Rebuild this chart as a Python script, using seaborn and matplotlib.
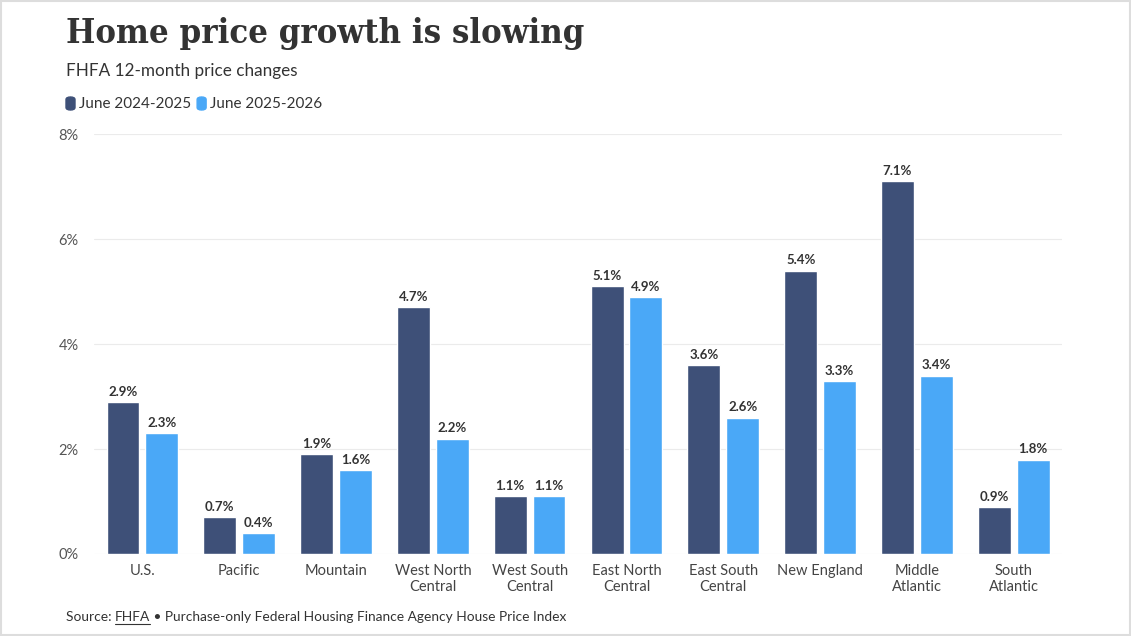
import matplotlib.pyplot as plt
import pandas as pd
import seaborn as sns
from matplotlib.patches import Rectangle, FancyBboxPatch

regions = ['U.S.', 'Pacific', 'Mountain', 'West North\nCentral', 'West South\nCentral',
           'East North\nCentral', 'East South\nCentral', 'New England', 'Middle\nAtlantic',
           'South\nAtlantic']
prev_year = [2.9, 0.7, 1.9, 4.7, 1.1, 5.1, 3.6, 5.4, 7.1, 0.9]
this_year = [2.3, 0.4, 1.6, 2.2, 1.1, 4.9, 2.6, 3.3, 3.4, 1.8]
series = ['June 2024-2025', 'June 2025-2026']
colors = ['#3e5078', '#4aa8f7']

df = pd.DataFrame({
    'region': regions * 2,
    'value': prev_year + this_year,
    'period': [series[0]] * len(regions) + [series[1]] * len(regions),
})

sns.set_style('white')
plt.rcParams['font.family'] = ['Lato', 'DejaVu Sans']

fig = plt.figure(figsize=(11.31, 6.36), dpi=100)
ax = fig.add_axes([0.0831, 0.129, 0.856, 0.660])

sns.barplot(data=df, x='region', y='value', hue='period', palette=colors,
            width=0.8, gap=0.15, ax=ax, legend=False, saturation=1)

for cont in ax.containers:
    ax.bar_label(cont, labels=[f'{v:.1f}%' for v in cont.datavalues], padding=3,
                 fontsize=9.5, fontweight='bold', color='#333333')

ax.set_xlim(-0.5, len(regions) - 0.5)
ax.set_ylim(0, 8)
ax.set_yticks([0, 2, 4, 6, 8])
ax.set_yticklabels([f'{t}%' for t in [0, 2, 4, 6, 8]])
ax.set_xlabel('')
ax.set_ylabel('')
ax.grid(axis='y', color='#ebebeb', linewidth=0.8)
ax.set_axisbelow(True)
for s in ax.spines.values():
    s.set_visible(False)
ax.tick_params(axis='y', length=0, labelsize=10.5, labelcolor='#555555', pad=8)
ax.tick_params(axis='x', length=3, color='#e0e0e0', labelsize=10.5, labelcolor='#444444', pad=4)
for lbl in ax.get_yticklabels():
    lbl.set_horizontalalignment('left')
    lbl.set_x(-0.025)

# header
fig.text(66 / 1131, 1 - 33 / 636, 'Home price growth is slowing', fontsize=24.8,
         fontweight='bold', family='DejaVu Serif', fontstretch='condensed',
         color='#333333', va='center')
fig.text(66 / 1131, 1 - 71 / 636, 'FHFA 12-month price changes', fontsize=12.3,
         color='#333333', va='center')

x = 66
for name, c in zip(series, colors):
    fig.patches.append(FancyBboxPatch((x / 1131, 1 - 110 / 636), 9 / 1131, 13 / 636,
                                      boxstyle='round,pad=0,rounding_size=0.004',
                                      transform=fig.transFigure, color=c))
    t = fig.text((x + 13) / 1131, 1 - 104 / 636, name, fontsize=11, color='#333333',
                 va='center')
    fig.canvas.draw()
    bb = t.get_window_extent()
    x = bb.x1 + 6

r = fig.canvas.get_renderer()
t0 = fig.text(66 / 1131, 1 - 617 / 636, 'Source: ', fontsize=9.9, color='#333333', va='center')
fig.canvas.draw()
x1 = t0.get_window_extent(r).x1
t1 = fig.text(x1 / 1131, 1 - 617 / 636, 'FHFA', fontsize=9.9, color='#333333', va='center')
fig.canvas.draw()
b1 = t1.get_window_extent(r)
fig.lines.append(plt.Line2D([b1.x0 / 1131, b1.x1 / 1131], [(b1.y0 - 1) / 636] * 2,
                            transform=fig.transFigure, color='#333333', linewidth=0.8))
fig.text(b1.x1 / 1131, 1 - 617 / 636, ' \u2022 Purchase-only Federal Housing Finance Agency House Price Index',
         fontsize=9.9, color='#333333', va='center')

fig.patches.append(Rectangle((0.001, 0.001), 0.998, 0.997, transform=fig.transFigure,
                             fill=False, edgecolor='#dddddd', linewidth=1.5))

fig.savefig('out.png', dpi=100)
